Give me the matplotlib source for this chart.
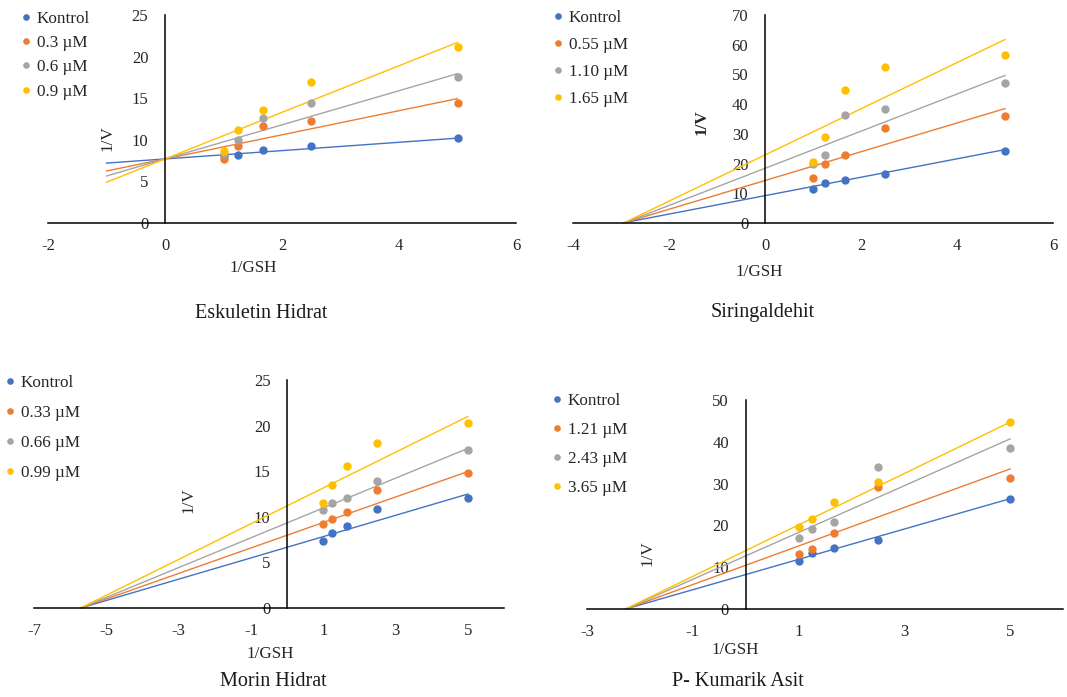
import matplotlib
matplotlib.use("Agg")
import matplotlib.pyplot as plt
import numpy as np

plt.rcParams['font.family'] = ['Liberation Serif', 'DejaVu Serif']
plt.rcParams['axes.unicode_minus'] = False

W, H = 1067, 697
colors = ['#4472C4', '#ED7D31', '#A5A5A5', '#FFC000']

# 1/GSH values shared by all panels
x_gsh = [1.0, 1.25, 1.667, 2.5, 5.0]

# ---- Eskuletin Hidrat ----
esk_labels = ['Kontrol', '0.3 µM', '0.6 µM', '0.9 µM']
esk_kontrol = [8.0, 8.2, 8.8, 9.3, 10.2]
esk_c1 = [7.7, 9.3, 11.6, 12.3, 14.4]
esk_c2 = [8.3, 10.0, 12.6, 14.4, 17.5]
esk_c3 = [8.7, 11.2, 13.6, 17.0, 21.1]
esk_slopes = [0.5, 1.45, 2.05, 2.8]
esk_intercepts = [7.7, 7.7, 7.7, 7.7]
esk_line_start = -1.0

# ---- Siringaldehit ----
sir_labels = ['Kontrol', '0.55 µM', '1.10 µM', '1.65 µM']
sir_kontrol = [11.6, 13.4, 14.4, 16.5, 24.3]
sir_c1 = [15.3, 20.0, 23.0, 32.0, 36.1]
sir_c2 = [19.8, 23.0, 36.3, 38.5, 47.0]
sir_c3 = [20.6, 29.0, 44.6, 52.4, 56.5]
sir_slopes = [3.1, 4.84, 6.25, 7.77]
sir_intercepts = [9.2, 14.3, 18.4, 22.9]
sir_line_start = -2.95

# ---- Morin Hidrat ----
mor_labels = ['Kontrol', '0.33 µM', '0.66 µM', '0.99 µM']
mor_kontrol = [7.3, 8.25, 9.0, 10.9, 12.1]
mor_c1 = [9.2, 9.8, 10.5, 12.9, 14.85]
mor_c2 = [10.8, 11.5, 12.1, 13.9, 17.3]
mor_c3 = [11.5, 13.5, 15.6, 18.1, 20.3]
mor_slopes = [1.167, 1.397, 1.634, 1.96]
mor_intercepts = [6.66, 7.98, 9.33, 11.2]
mor_line_start = -5.71

# ---- P- Kumarik Asit ----
kum_labels = ['Kontrol', '1.21 µM', '2.43 µM', '3.65 µM']
kum_kontrol = [11.6, 13.3, 14.7, 16.5, 26.3]
kum_c1 = [13.1, 14.3, 18.2, 29.2, 31.4]
kum_c2 = [16.9, 19.1, 20.8, 34.0, 38.6]
kum_c3 = [19.6, 21.6, 25.5, 30.5, 44.7]
kum_slopes = [3.63, 4.61, 5.6, 6.15]
kum_intercepts = [8.24, 10.46, 12.7, 13.96]
kum_line_start = -2.27

line_end = 5.0

fig = plt.figure(figsize=(W / 100, H / 100), dpi=100)


def fx(px):
    return px / W


def fy(py):
    return 1 - py / H


panels = [
    dict(rect=[48, 15, 516, 223], xlim=(-2, 6), xticks=[-2, 0, 2, 4, 6],
         ylim=(0, 25), yticks=[0, 5, 10, 15, 20, 25],
         series=[esk_kontrol, esk_c1, esk_c2, esk_c3], labels=esk_labels,
         slopes=esk_slopes, intercepts=esk_intercepts, start=esk_line_start,
         title='Eskuletin Hidrat', title_pos=(261, 313), xl_pos=(253, 268),
         yl_pos=(108, 138), yl_bold=False, leg_pos=(22, 11), leg_space=0.48),
    dict(rect=[573, 15, 1053, 223], xlim=(-4, 6), xticks=[-4, -2, 0, 2, 4, 6],
         ylim=(0, 70), yticks=[0, 10, 20, 30, 40, 50, 60, 70],
         series=[sir_kontrol, sir_c1, sir_c2, sir_c3], labels=sir_labels,
         slopes=sir_slopes, intercepts=sir_intercepts, start=sir_line_start,
         title='Siringaldehit', title_pos=(763, 313), xl_pos=(759, 272),
         yl_pos=(702, 122), yl_bold=True, leg_pos=(554, 10), leg_space=0.64),
    dict(rect=[34, 380, 504, 608], xlim=(-7, 6), xticks=[-7, -5, -3, -1, 1, 3, 5],
         ylim=(0, 25), yticks=[0, 5, 10, 15, 20, 25],
         series=[mor_kontrol, mor_c1, mor_c2, mor_c3], labels=mor_labels,
         slopes=mor_slopes, intercepts=mor_intercepts, start=mor_line_start,
         title='Morin Hidrat', title_pos=(273, 682), xl_pos=(270, 654),
         yl_pos=(189, 500), yl_bold=False, leg_pos=(6, 375), leg_space=0.82),
    dict(rect=[587, 400, 1063, 609], xlim=(-3, 6), xticks=[-3, -1, 1, 3, 5],
         ylim=(0, 50), yticks=[0, 10, 20, 30, 40, 50],
         series=[kum_kontrol, kum_c1, kum_c2, kum_c3], labels=kum_labels,
         slopes=kum_slopes, intercepts=kum_intercepts, start=kum_line_start,
         title='P- Kumarik Asit', title_pos=(738, 682), xl_pos=(735, 650),
         yl_pos=(648, 553), yl_bold=False, leg_pos=(553, 393), leg_space=0.76),
]

for p in panels:
    l, t, r, b = p['rect']
    ax = fig.add_axes([fx(l), fy(b), (r - l) / W, (b - t) / H])
    ax.set_xlim(*p['xlim'])
    ax.set_ylim(*p['ylim'])
    ax.set_xticks(p['xticks'])
    ax.set_yticks(p['yticks'])
    ax.patch.set_alpha(0)
    for s in ['top', 'right']:
        ax.spines[s].set_visible(False)
    ax.spines['left'].set_position(('data', 0))
    ax.spines['bottom'].set_position(('data', 0))
    for s in ['left', 'bottom']:
        ax.spines[s].set_color('black')
        ax.spines[s].set_linewidth(1.1)
    ax.tick_params(axis='both', length=0, labelsize=12)
    ax.tick_params(axis='y', pad=12)
    ax.tick_params(axis='x', pad=10.5)
    for lab in ax.get_xticklabels() + ax.get_yticklabels():
        lab.set_color('#262626')

    handles = []
    for i, ys in enumerate(p['series']):
        xs_line = np.array([p['start'], line_end])
        ax.plot(xs_line, p['slopes'][i] * xs_line + p['intercepts'][i],
                color=colors[i], lw=1.0, zorder=2, clip_on=False)
        h, = ax.plot(x_gsh, ys, 'o', color=colors[i], ms=5, zorder=3,
                     label=p['labels'][i], clip_on=False)
        handles.append(h)

    leg = ax.legend(handles=handles, loc='upper left',
                    bbox_to_anchor=(fx(p['leg_pos'][0]), fy(p['leg_pos'][1])),
                    bbox_transform=fig.transFigure, frameon=False,
                    fontsize=12.3, handlelength=0.5, handletextpad=0.35,
                    labelspacing=p['leg_space'], borderpad=0, borderaxespad=0,
                    markerscale=0.75)
    for txt in leg.get_texts():
        txt.set_color('#262626')

    fig.text(fx(p['xl_pos'][0]), fy(p['xl_pos'][1]), '1/GSH', ha='center',
             va='center', fontsize=12.3, color='#262626')
    fig.text(fx(p['yl_pos'][0]), fy(p['yl_pos'][1]), '1/V', ha='center',
             va='center', rotation=90, fontsize=12.3, color='#262626',
             fontweight='bold' if p['yl_bold'] else 'normal')
    fig.text(fx(p['title_pos'][0]), fy(p['title_pos'][1]), p['title'],
             ha='center', va='center', fontsize=14.5, color='#1a1a1a')

fig.savefig('out.png', dpi=100)
